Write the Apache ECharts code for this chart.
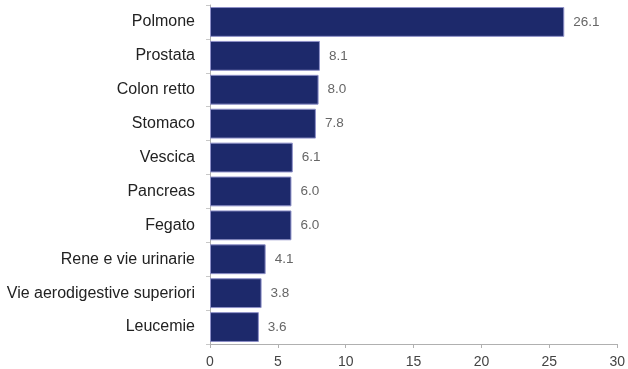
<!DOCTYPE html>
<html>
<head>
<meta charset="utf-8">
<script src="https://cdn.jsdelivr.net/npm/echarts@6/dist/echarts.min.js"></script>
<style>
  html, body { margin: 0; padding: 0; background: #fff; }
  #chart { width: 628px; height: 369px; }
</style>
</head>
<body>
<div id="chart"></div>
<script>
// Tumour sites, top to bottom
const categories = [
  'Polmone', 'Prostata', 'Colon retto', 'Stomaco', 'Vescica',
  'Pancreas', 'Fegato', 'Rene e vie urinarie',
  'Vie aerodigestive superiori', 'Leucemie'
];
const values = [26.1, 8.1, 8.0, 7.8, 6.1, 6.0, 6.0, 4.1, 3.8, 3.6];
const xTicks = [0, 5, 10, 15, 20, 25, 30];

const chart = echarts.init(document.getElementById('chart'), null, { renderer: 'canvas' });

chart.setOption({
  animation: false,
  grid: { left: 210, right: 9, top: 5, bottom: 25, containLabel: false },
  xAxis: {
    type: 'value',
    min: xTicks[0],
    max: xTicks[xTicks.length - 1],
    interval: 5,
    axisLine: { show: true, lineStyle: { color: '#b0b0b0', width: 1 } },
    axisTick: { show: true, length: 4, lineStyle: { color: '#b0b0b0' } },
    axisLabel: { color: '#444', fontFamily: 'Liberation Sans', fontSize: 14, margin: 11 },
    splitLine: { show: false }
  },
  yAxis: {
    type: 'category',
    data: categories,
    inverse: true,
    axisLine: { show: true, lineStyle: { color: '#b0b0b0', width: 1 } },
    axisTick: { show: true, length: 4, inside: false, lineStyle: { color: '#c8c8c8' } },
    axisLabel: { color: '#222', fontFamily: 'Liberation Sans', fontSize: 16, margin: 15 }
  },
  series: [{
    type: 'bar',
    data: values,
    barCategoryGap: '12%',
    itemStyle: { color: '#1d296b', borderColor: '#8e90c8', borderWidth: 1 },
    label: {
      show: true,
      position: 'right',
      distance: 9,
      color: '#666',
      fontFamily: 'Liberation Sans',
      fontSize: 13.5,
      formatter: p => p.value.toFixed(1)
    }
  }]
});
</script>
</body>
</html>
